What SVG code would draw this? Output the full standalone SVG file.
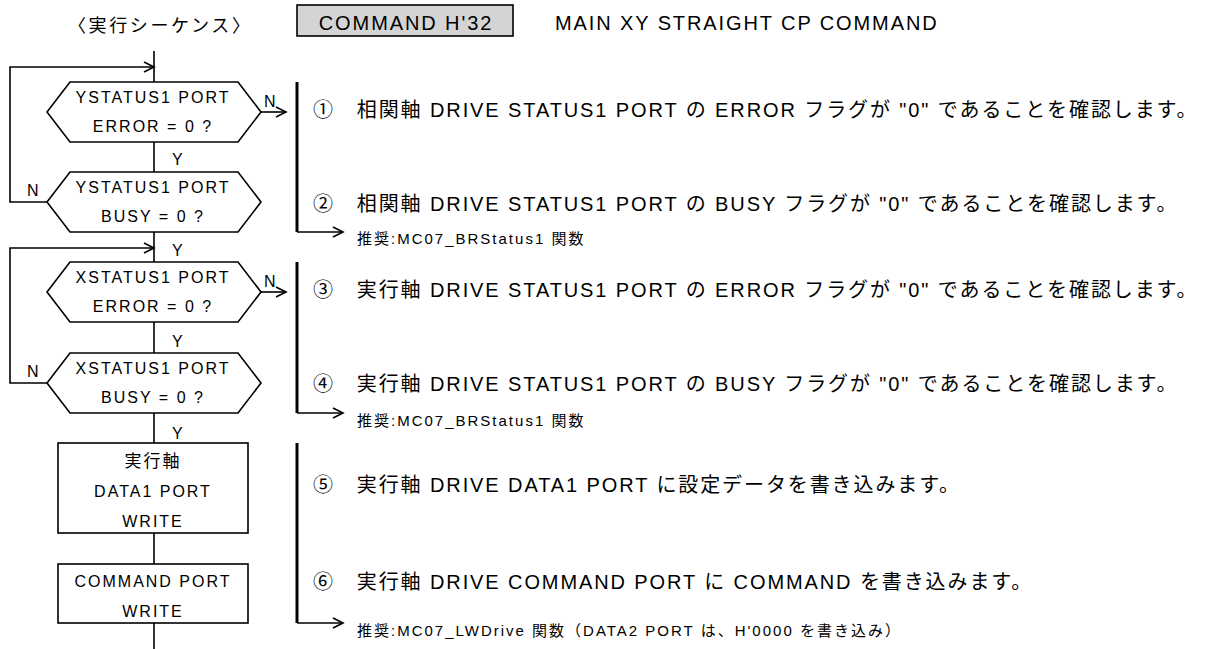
<svg xmlns="http://www.w3.org/2000/svg" width="1230" height="649" viewBox="0 0 1230 649">
<style>
.ln{stroke:#000;stroke-width:1.6;fill:none}
.bar{stroke:#000;stroke-width:3;fill:none}
.shape{fill:#fff;stroke:#000;stroke-width:1.6}
.t{font-family:"Liberation Sans","Noto Sans CJK JP",sans-serif;font-size:16px;letter-spacing:2px;fill:#000}
.c{text-anchor:middle}
.tm{font-size:20px;letter-spacing:1.9px}
.tr{font-size:15px;letter-spacing:2px}
</style>
<defs>
<marker id="ah" markerUnits="userSpaceOnUse" markerWidth="12" markerHeight="12" refX="10" refY="5" orient="auto" overflow="visible">
<path d="M0,0 L10,5 L0,10" fill="none" stroke="#000" stroke-width="1.6"/>
</marker>
</defs>
<rect width="1230" height="649" fill="#fff"/>

<g id="header">
<text class="t" x="68" y="32" style="font-size:18px;letter-spacing:2.6px">〈実行シーケンス〉</text>
<rect x="297" y="5" width="216" height="31" fill="#d4d4d4" stroke="#000" stroke-width="1.6"/>
<text class="t tm c" x="406" y="30">COMMAND H'32</text>
<text class="t tm" x="555" y="30">MAIN XY STRAIGHT CP COMMAND</text>
</g>

<g id="connectors">
<path class="ln" d="M154,51 V82"/>
<path class="ln" d="M154,142 V172"/>
<path class="ln" d="M154,232 V262"/>
<path class="ln" d="M154,322 V353"/>
<path class="ln" d="M154,413 V443"/>
<path class="ln" d="M154,533 V564"/>
<path class="ln" d="M154,623 V649"/>
<path class="ln" d="M47,202 H10 V67 H154" marker-end="url(#ah)"/>
<path class="ln" d="M47,383 H10 V248 H154" marker-end="url(#ah)"/>
<path class="ln" d="M261,112 H286" marker-end="url(#ah)"/>
<path class="ln" d="M261,292 H286" marker-end="url(#ah)"/>
<path class="ln" d="M297,232 H343" marker-end="url(#ah)"/>
<path class="ln" d="M297,413 H343" marker-end="url(#ah)"/>
<path class="ln" d="M297,623 H343" marker-end="url(#ah)"/>
<path class="bar" d="M297,82 V232"/>
<path class="bar" d="M297,262 V413"/>
<path class="bar" d="M297,443 V623"/>
<text class="t" x="172" y="165">Y</text>
<text class="t" x="172" y="256">Y</text>
<text class="t" x="172" y="347">Y</text>
<text class="t" x="172" y="439">Y</text>
<text class="t" x="264" y="107">N</text>
<text class="t" x="264" y="287">N</text>
<text class="t" x="27" y="196">N</text>
<text class="t" x="27" y="377">N</text>
</g>

<g id="n1">
<polygon class="shape" points="47,112 70,82 238,82 261,112 238,142 70,142"/>
<text class="t c" x="153" y="102.5">YSTATUS1 PORT</text>
<text class="t c" x="153" y="132">ERROR = 0 ?</text>
</g>
<g id="n2">
<polygon class="shape" points="47,202 70,172 238,172 261,202 238,232 70,232"/>
<text class="t c" x="153" y="192.5">YSTATUS1 PORT</text>
<text class="t c" x="153" y="222">BUSY = 0 ?</text>
</g>
<g id="n3">
<polygon class="shape" points="47,292 70,262 238,262 261,292 238,322 70,322"/>
<text class="t c" x="153" y="282.5">XSTATUS1 PORT</text>
<text class="t c" x="153" y="312">ERROR = 0 ?</text>
</g>
<g id="n4">
<polygon class="shape" points="47,383 70,353 238,353 261,383 238,413 70,413"/>
<text class="t c" x="153" y="373.5">XSTATUS1 PORT</text>
<text class="t c" x="153" y="403">BUSY = 0 ?</text>
</g>
<g id="n5">
<rect class="shape" x="58" y="443" width="190" height="90"/>
<text class="t c" x="153" y="467" style="font-size:17px">実行軸</text>
<text class="t c" x="153" y="497">DATA1 PORT</text>
<text class="t c" x="153" y="527">WRITE</text>
</g>
<g id="n6">
<rect class="shape" x="58" y="564" width="190" height="59"/>
<text class="t c" x="153" y="587">COMMAND PORT</text>
<text class="t c" x="153" y="617">WRITE</text>
</g>

<g id="notes">
<text class="t tm" x="313" y="117">①　相関軸 DRIVE STATUS1 PORT の ERROR フラグが "0" であることを確認します。</text>
<text class="t tm" x="313" y="211">②　相関軸 DRIVE STATUS1 PORT の BUSY フラグが "0" であることを確認します。</text>
<text class="t tm" x="313" y="297">③　実行軸 DRIVE STATUS1 PORT の ERROR フラグが "0" であることを確認します。</text>
<text class="t tm" x="313" y="391">④　実行軸 DRIVE STATUS1 PORT の BUSY フラグが "0" であることを確認します。</text>
<text class="t tm" x="313" y="492">⑤　実行軸 DRIVE DATA1 PORT に設定データを書き込みます。</text>
<text class="t tm" x="313" y="589">⑥　実行軸 DRIVE COMMAND PORT に COMMAND を書き込みます。</text>
<text class="t tr" x="357" y="244">推奨:MC07_BRStatus1 関数</text>
<text class="t tr" x="357" y="426">推奨:MC07_BRStatus1 関数</text>
<text class="t tr" x="357" y="636">推奨:MC07_LWDrive 関数（DATA2 PORT は、H'0000 を書き込み）</text>
</g>
</svg>
